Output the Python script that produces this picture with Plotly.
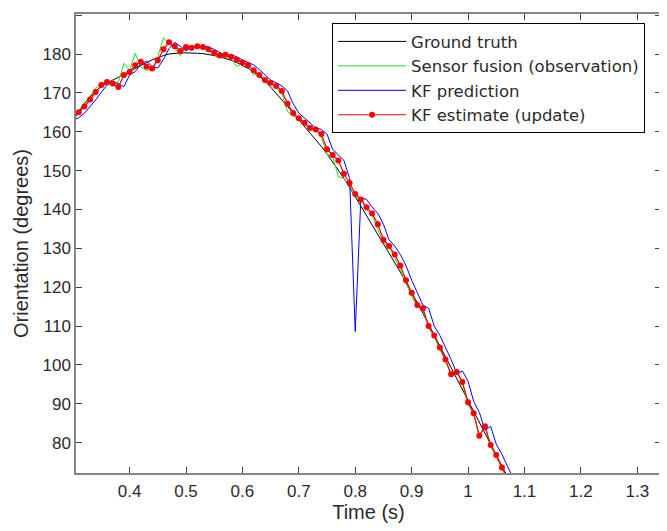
import plotly.graph_objects as go

time_s = [0.30, 0.31, 0.32, 0.33, 0.34, 0.35, 0.36, 0.37, 0.38, 0.39,
          0.40, 0.41, 0.42, 0.43, 0.44, 0.45, 0.46, 0.47, 0.48, 0.49,
          0.50, 0.51, 0.52, 0.53, 0.54, 0.55, 0.56, 0.57, 0.58, 0.59,
          0.60, 0.61, 0.62, 0.63, 0.64, 0.65, 0.66, 0.67, 0.68, 0.69,
          0.70, 0.71, 0.72, 0.73, 0.74, 0.75, 0.76, 0.77, 0.78, 0.79,
          0.80, 0.81, 0.82, 0.83, 0.84, 0.85, 0.86, 0.87, 0.88, 0.89,
          0.90, 0.91, 0.92, 0.93, 0.94, 0.95, 0.96, 0.97, 0.98, 0.99,
          1.00, 1.01, 1.02, 1.03, 1.04, 1.05, 1.06, 1.07, 1.08]

ground_truth = [163.0, 165.2, 167.2, 169.0, 170.5, 171.7, 172.6, 173.3, 174.0, 174.8,
                175.6, 176.4, 177.1, 177.8, 178.5, 179.1, 179.6, 180.0, 180.2, 180.3,
                180.3, 180.3, 180.2, 180.1, 179.9, 179.6, 179.3, 178.9, 178.4, 177.8,
                177.1, 176.3, 175.4, 174.3, 173.0, 171.5, 169.9, 168.2, 166.5, 164.8,
                163.1, 161.4, 159.7, 158.0, 156.2, 154.3, 152.3, 150.2, 148.0, 145.7,
                143.3, 140.9, 138.5, 136.1, 133.7, 131.3, 128.9, 126.4, 123.9, 121.3,
                118.7, 116.0, 113.3, 110.5, 107.7, 104.9, 102.1, 99.3, 96.5, 93.7,
                90.8, 88.0, 85.2, 82.4, 79.6, 76.8, 74.0, 71.2, 68.4]

sensor_fusion = [163.8, 165.6, 167.2, 169.2, 171.2, 172.6, 173.0, 172.6, 172.8, 177.6,
                 175.8, 180.2, 176.6, 175.8, 176.2, 179.2, 184.2, 182.6, 181.6, 179.6,
                 182.0, 181.4, 182.2, 181.6, 180.8, 179.8, 179.4, 179.8, 178.8, 176.8,
                 177.6, 176.8, 174.6, 174.8, 172.6, 172.8, 171.2, 169.8, 165.2, 164.0,
                 163.4, 162.0, 160.6, 160.8, 158.6, 154.2, 153.6, 148.5, 148.0, 146.0,
                 143.2, 142.6, 140.0, 138.6, 134.8, 131.6, 130.2, 127.6, 124.6, 121.0,
                 117.6, 115.0, 114.2, 109.6, 107.2, 104.0, 101.0, 97.2, 98.6, 95.0,
                 90.0, 87.2, 81.2, 84.6, 79.0, 76.4, 73.2, 70.2, 67.2]

kf_prediction = [163.0, 163.6, 164.8, 166.4, 168.2, 170.2, 172.0, 172.8, 172.4, 171.6,
                 174.6, 175.5, 177.4, 178.2, 176.8, 176.4, 178.6, 181.4, 183.0, 182.0,
                 180.8, 181.8, 181.6, 182.0, 181.8, 181.2, 180.3, 179.6, 179.8, 179.3,
                 178.5, 177.8, 177.2, 176.0, 174.6, 173.3, 172.6, 171.8, 170.5, 167.2,
                 164.8, 163.5, 162.3, 161.0, 160.6, 159.4, 155.5, 154.0, 152.6, 148.0,
                 108.6, 143.0, 142.6, 140.6, 139.0, 136.2, 132.2, 130.6, 128.4, 125.6,
                 121.8, 118.6, 115.4, 114.6, 110.0, 107.6, 104.5, 101.4, 97.8, 98.4,
                 95.8, 90.6, 87.8, 83.2, 84.2, 79.6, 77.0, 73.8, 70.8]

kf_estimate = [163.5, 165.0, 166.5, 168.3, 170.2, 172.0, 172.8, 172.4, 171.5, 174.6,
               175.4, 177.1, 178.0, 176.8, 176.3, 178.4, 181.2, 183.0, 182.0, 180.8,
               181.8, 181.6, 182.0, 181.8, 181.2, 180.3, 179.6, 179.8, 179.3, 178.5,
               177.8, 177.2, 175.8, 174.6, 173.3, 172.6, 171.8, 170.5, 167.2, 164.8,
               163.5, 162.3, 161.0, 160.6, 159.4, 155.5, 154.0, 152.6, 149.2, 146.8,
               144.0, 142.6, 140.6, 139.0, 136.2, 132.2, 130.6, 128.4, 125.6, 121.8,
               118.6, 115.4, 114.6, 110.0, 107.6, 104.5, 101.4, 97.6, 98.2, 95.6,
               90.4, 87.6, 81.8, 84.2, 79.4, 76.8, 73.6, 70.6, 67.6]

x_ticks = [0.4, 0.5, 0.6, 0.7, 0.8, 0.9, 1.0, 1.1, 1.2, 1.3]
x_tick_labels = ["0.4", "0.5", "0.6", "0.7", "0.8", "0.9", "1", "1.1", "1.2", "1.3"]
y_ticks = [80, 90, 100, 110, 120, 130, 140, 150, 160, 170, 180, 190]

FONT = "Liberation Sans, Arial, Helvetica, sans-serif"
LEGEND_FONT = "DejaVu Sans, Liberation Sans, Arial, sans-serif"
TEXT = "#2a2a2a"

fig = go.Figure()
fig.add_trace(go.Scatter(x=time_s, y=ground_truth, mode="lines", name="Ground truth",
                         line=dict(color="#000000", width=1)))
fig.add_trace(go.Scatter(x=time_s, y=sensor_fusion, mode="lines", name="Sensor fusion (observation)",
                         line=dict(color="#22dd22", width=1)))
fig.add_trace(go.Scatter(x=time_s, y=kf_prediction, mode="lines", name="KF prediction",
                         line=dict(color="#0000ff", width=1)))
fig.add_trace(go.Scatter(x=time_s, y=kf_estimate, mode="lines+markers", name="KF estimate (update)",
                         line=dict(color="#ff0000", width=1.2),
                         marker=dict(color="#ff0000", size=6, symbol="circle")))

axis_common = dict(
    showline=True, linecolor="#858585", linewidth=1.5, mirror="ticks",
    ticks="inside", ticklen=6, tickwidth=1, tickcolor="#404040",
    showgrid=False, zeroline=False,
    tickfont=dict(family=FONT, size=17, color=TEXT),
)

fig.update_xaxes(range=[0.305, 1.342], tickvals=x_ticks, ticktext=x_tick_labels,
                 ticklabelstandoff=2,
                 title=dict(text="Time (s)", font=dict(family=FONT, size=20, color=TEXT), standoff=0),
                 **axis_common)
fig.update_yaxes(range=[72.2, 190.3], tickvals=y_ticks,
                 title=dict(text="Orientation (degrees)", font=dict(family=FONT, size=20, color=TEXT), standoff=8),
                 **axis_common)

# page body has an 8px margin, so the figure is sized to fit the 667x531 window
fig.update_layout(
    width=659, height=515,
    margin=dict(l=68, r=4, t=4, b=50),
    paper_bgcolor="white", plot_bgcolor="white",
    font=dict(family=FONT, size=17, color=TEXT),
    showlegend=True,
    legend=dict(x=0.4378, y=0.98, xanchor="left", yanchor="top",
                bordercolor="#000000", borderwidth=1, bgcolor="white",
                font=dict(family=LEGEND_FONT, size=16.5, color=TEXT),
                itemwidth=68, tracegroupgap=0),
)

fig.write_html("out.html")
